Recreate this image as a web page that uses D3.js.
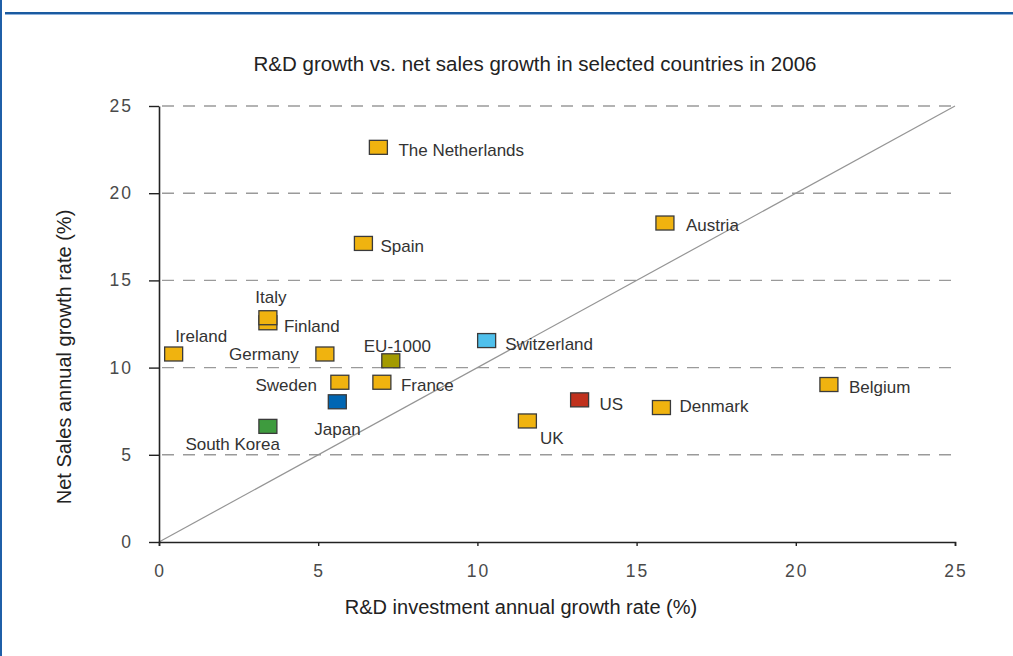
<!DOCTYPE html>
<html>
<head>
<meta charset="utf-8">
<script src="https://cdn.jsdelivr.net/npm/d3@7"></script>
<style>
  body { margin: 0; background: #fff; }
  svg { display: block; font-family: "Liberation Sans", Arial, sans-serif; }
  .grid line { stroke: #9a9a9a; stroke-width: 1.4; stroke-dasharray: 12 9; }
  .tick-label { fill: #4a4a4a; font-size: 17.5px; letter-spacing: 2px; }
  .label { fill: #333; font-size: 17px; }
</style>
</head>
<body>
<div id="chart"></div>
<script>
// data
var countries = ["The Netherlands", "Spain", "Austria", "Finland", "Italy", "Ireland", "Germany",
                 "EU-1000", "Sweden", "France", "Japan", "South Korea", "Switzerland", "US",
                 "UK", "Denmark", "Belgium"];
var rdGrowth = [6.89, 6.42, 15.89, 3.42, 3.42, 0.46, 5.21, 7.28, 5.68, 7.0, 5.6, 3.42, 10.29, 13.21, 11.57, 15.78, 21.04];
var salesGrowth = [22.63, 17.12, 18.29, 12.57, 12.86, 10.78, 10.78, 10.39, 9.16, 9.16, 8.04, 6.63, 11.55, 8.15, 6.94, 7.71, 9.03];
var xTicks = [0, 5, 10, 15, 20, 25];
var yTicks = [0, 5, 10, 15, 20, 25];

// styling / label placement
var defaultColor = "#f0b30f";
var colors = {"EU-1000": "#a39b00", "Japan": "#0066b3", "South Korea": "#3e9b3e",
              "Switzerland": "#4fc0ec", "US": "#c0311d"};
var labelPos = {
  "The Netherlands": [20, 9, "start"], "Spain": [17, 9, "start"], "Austria": [21, 8, "start"],
  "Finland": [16, 9, "start"], "Italy": [3, -15, "middle"], "Ireland": [1.5, -12, "start"],
  "Germany": [-26, 6, "end"], "EU-1000": [-27, -9, "start"], "Sweden": [-23, 9, "end"],
  "France": [19, 9, "start"], "Japan": [-23, 33, "start"], "South Korea": [12, 24, "end"],
  "Switzerland": [18.5, 9.5, "start"], "US": [20, 10, "start"], "UK": [12.5, 23, "start"],
  "Denmark": [18, 4, "start"], "Belgium": [20, 8, "start"]
};

var W = 1013, H = 656;
var svg = d3.select("#chart").append("svg").attr("width", W).attr("height", H);

// blue frame
svg.append("rect").attr("x", 0).attr("y", 0).attr("width", 2).attr("height", H).attr("fill", "#1f5fa8");
svg.append("rect").attr("x", 5).attr("y", 12).attr("width", W - 5).attr("height", 2).attr("fill", "#1a5aa0");
svg.append("rect").attr("x", 5).attr("y", 14).attr("width", W - 5).attr("height", 1).attr("fill", "#8fb2dc");

var x = d3.scaleLinear().domain([0, 25]).range([159, 955]);
var y = d3.scaleLinear().domain([0, 25]).range([542, 106]);

// title
svg.append("text").attr("x", 535).attr("y", 71).attr("text-anchor", "middle")
  .attr("fill", "#222").style("font-size", "20.5px")
  .text("R&D growth vs. net sales growth in selected countries in 2006");

// dashed grid
svg.append("g").attr("class", "grid")
  .selectAll("line").data(yTicks.filter(function (d) { return d > 0; }))
  .enter().append("line")
  .attr("x1", x(0) + 3).attr("x2", x(25))
  .attr("y1", function (d) { return y(d); }).attr("y2", function (d) { return y(d); });

// diagonal
svg.append("line")
  .attr("x1", x(0)).attr("y1", y(0)).attr("x2", x(25)).attr("y2", y(25))
  .attr("stroke", "#959595").attr("stroke-width", 1.2);

// axes
var xAxis = d3.axisBottom(x).tickValues(xTicks).tickSize(4).tickSizeOuter(4).tickFormat("");
var yAxis = d3.axisLeft(y).tickValues(yTicks).tickSize(10).tickSizeOuter(0).tickFormat("");

var gx = svg.append("g").attr("transform", "translate(0," + y(0) + ")").call(xAxis);
var gy = svg.append("g").attr("transform", "translate(" + x(0) + ",0)").call(yAxis);
[gx, gy].forEach(function (g) {
  g.select(".domain").attr("stroke", "#222").attr("stroke-width", 1.6);
  g.selectAll(".tick line").attr("stroke", "#222").attr("stroke-width", 1.4);
});

svg.append("g").selectAll("text").data(xTicks).enter().append("text")
  .attr("class", "tick-label")
  .attr("x", function (d) { return x(d) + 1; }).attr("y", 577)
  .attr("text-anchor", "middle")
  .text(function (d) { return d; });

svg.append("g").selectAll("text").data(yTicks).enter().append("text")
  .attr("class", "tick-label")
  .attr("x", 133).attr("y", function (d) { return y(d) + 6; })
  .attr("text-anchor", "end")
  .text(function (d) { return d; });

// axis titles
svg.append("text").attr("x", 521).attr("y", 614).attr("text-anchor", "middle")
  .attr("fill", "#222").style("font-size", "20px")
  .text("R&D investment annual growth rate (%)");

svg.append("text").attr("transform", "translate(71,357) rotate(-90)")
  .attr("text-anchor", "middle").attr("fill", "#222").style("font-size", "20px")
  .text("Net Sales annual growth rate (%)");

// points
var pts = countries.map(function (c, i) {
  return {name: c, rd: rdGrowth[i], sales: salesGrowth[i]};
});
var mw = 18, mh = 14;

var nodes = svg.append("g").selectAll("g").data(pts).enter().append("g");

nodes.append("rect")
  .attr("x", function (d) { return x(d.rd) - mw / 2; })
  .attr("y", function (d) { return y(d.sales) - mh / 2; })
  .attr("width", mw).attr("height", mh)
  .attr("fill", function (d) { return colors[d.name] || defaultColor; })
  .attr("stroke", "#3a3a3a").attr("stroke-width", 1.3);

nodes.append("text")
  .attr("class", "label")
  .attr("x", function (d) { return x(d.rd) + labelPos[d.name][0]; })
  .attr("y", function (d) { return y(d.sales) + labelPos[d.name][1]; })
  .attr("text-anchor", function (d) { return labelPos[d.name][2]; })
  .text(function (d) { return d.name; });
</script>
</body>
</html>
